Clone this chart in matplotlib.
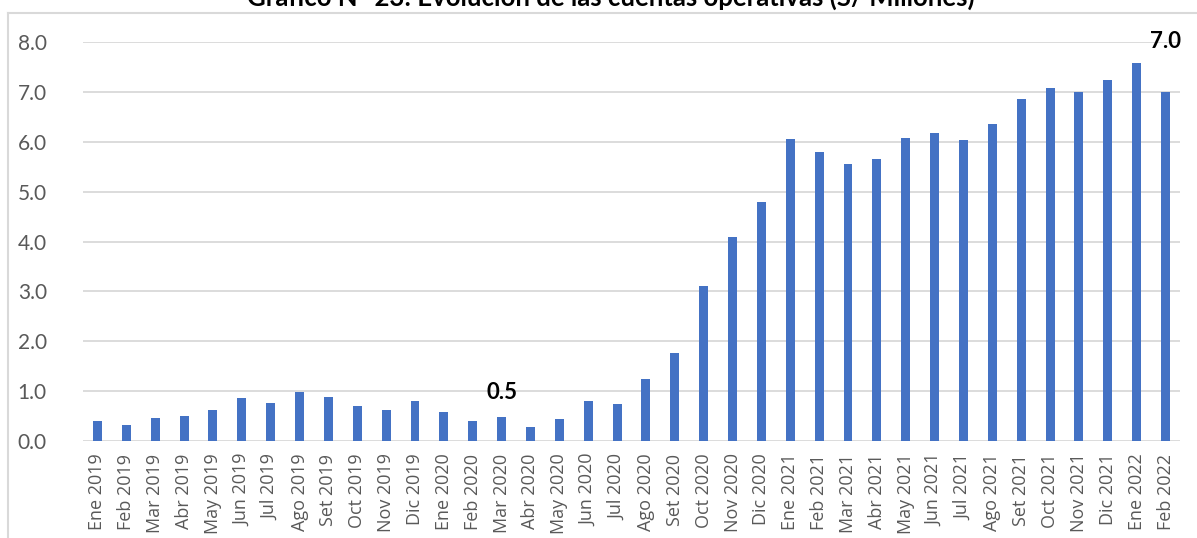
import numpy as np
import matplotlib
matplotlib.use("Agg")
from matplotlib import pyplot as plt
from matplotlib.lines import Line2D

plt.rcParams['font.family'] = ['Lato', 'DejaVu Sans']

# months shown on the x axis
meses = ["Ene", "Feb", "Mar", "Abr", "May", "Jun", "Jul", "Ago", "Set", "Oct", "Nov", "Dic"]
anios = [2019, 2020, 2021, 2022]
labels = [f"{m} {a}" for a in anios for m in meses][:38]

# cuentas operativas, S/ millones
valores = [0.40, 0.33, 0.47, 0.50, 0.62, 0.87, 0.76, 0.99, 0.88, 0.70, 0.62, 0.80,
           0.59, 0.40, 0.49, 0.29, 0.45, 0.81, 0.74, 1.24, 1.76, 3.11, 4.09, 4.79,
           6.05, 5.79, 5.55, 5.65, 6.07, 6.17, 6.03, 6.35, 6.85, 7.07, 7.00, 7.23,
           7.58, 7.00]

# data labels shown on the chart: (index, text, y position)
etiquetas = [(14, "0.5", 0.98), (37, "7.0", 8.0)]

W, H = 1197, 538
fig = plt.figure(figsize=(W / 100, H / 100), dpi=100)
ax = fig.add_axes([83 / W, 1 - 441 / H, (1180 - 83) / W, (441 - 42) / H])

x = np.arange(len(valores))
ax.bar(x, valores, width=0.31, color="#4472C4", zorder=3)

ax.set_xlim(-0.5, len(valores) - 0.5)
ax.set_ylim(0, 8)
ax.set_yticks(np.arange(0, 9, 1))
ax.set_yticklabels([f"{v:.1f}" for v in range(9)])
ax.set_xticks(x)
ax.set_xticklabels(labels, rotation=90, family=["Open Sans", "DejaVu Sans"])
ax.grid(axis="y", color="#D9D9D9", linewidth=1.3, zorder=0)
for s in ax.spines.values():
    s.set_visible(False)
ax.tick_params(axis="y", length=0, pad=26, labelsize=15, labelcolor="#595959")
ax.tick_params(axis="x", length=0, pad=9, labelsize=13, labelcolor="#595959")

for i, txt, yy in etiquetas:
    ax.text(i, yy, txt, ha="center", va="center", fontsize=16, fontweight="bold", color="black")

# chart-area border (only top and left are in frame)
fig.add_artist(Line2D([8 / W, 1], [1 - 12.5 / H, 1 - 12.5 / H], color="#D9D9D9", linewidth=1.5))
fig.add_artist(Line2D([8 / W, 8 / W], [0, 1 - 12.5 / H], color="#D9D9D9", linewidth=1.5))

fig.text(611 / W, 1 - 5.5 / H, "Gráfico N° 23: Evolución de las cuentas operativas (S/ Millones)",
         ha="center", va="baseline", fontsize=18.5, fontweight="bold", color="black")

fig.savefig("out.png", dpi=100)
